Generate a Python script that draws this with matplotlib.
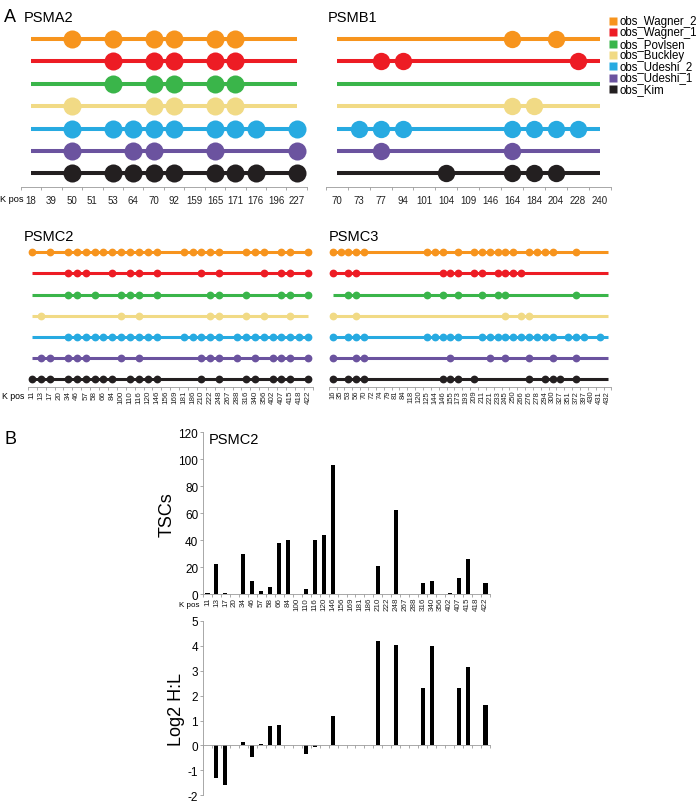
import numpy as np
import matplotlib
matplotlib.use('Agg')
import matplotlib.pyplot as plt
from matplotlib.lines import Line2D

plt.rcParams['font.family'] = ['Liberation Sans', 'DejaVu Sans']
plt.rcParams['axes.unicode_minus'] = False

W, H = 700, 804

STUDIES = ['obs_Wagner_2', 'obs_Wagner_1', 'obs_Povlsen', 'obs_Buckley',
           'obs_Udeshi_2', 'obs_Udeshi_1', 'obs_Kim']
COLORS = ['#F7941D', '#ED1C24', '#3AB54A', '#F1DA85', '#27AAE1', '#6B539F', '#231F20']

# K positions (x categories) and observed sites per study (same order as STUDIES)
PSMA2_KPOS = [18, 39, 50, 51, 53, 64, 70, 92, 159, 165, 171, 176, 196, 227]
PSMA2_SITES = [
    [50, 53, 70, 92, 165, 171],
    [53, 70, 92, 165, 171],
    [53, 70, 92, 165, 171],
    [50, 70, 92, 165, 171],
    [50, 53, 64, 70, 92, 165, 171, 176, 227],
    [50, 64, 70, 165, 227],
    [50, 53, 64, 70, 92, 165, 171, 176, 227],
]

PSMB1_KPOS = [70, 73, 77, 94, 101, 104, 109, 146, 164, 184, 204, 228, 240]
PSMB1_SITES = [
    [164, 204],
    [77, 94, 228],
    [],
    [164, 184],
    [73, 77, 94, 164, 184, 204, 228],
    [77, 164],
    [104, 164, 184, 204],
]

PSMC2_KPOS = [11, 13, 17, 20, 34, 46, 57, 58, 66, 84, 100, 110, 116, 120, 146, 156,
              169, 181, 186, 210, 222, 248, 267, 288, 316, 340, 356, 402, 407, 415, 418, 422]
PSMC2_SITES = [
    [11, 17, 34, 46, 57, 58, 66, 84, 100, 110, 116, 120, 146, 181, 186, 210, 222, 248,
     316, 340, 356, 407, 415, 422],
    [34, 46, 57, 84, 110, 116, 146, 210, 248, 356, 407, 415, 422],
    [34, 46, 58, 100, 110, 116, 146, 222, 248, 316, 407, 415, 422],
    [13, 100, 116, 222, 248, 316, 356, 415],
    [34, 46, 57, 58, 66, 84, 100, 110, 116, 120, 146, 181, 186, 210, 222, 248, 288, 316,
     340, 356, 402, 407, 415, 418, 422],
    [13, 17, 34, 46, 57, 100, 116, 210, 222, 248, 288, 340, 402, 407, 415, 422],
    [11, 13, 17, 34, 46, 57, 58, 66, 84, 110, 116, 120, 146, 210, 248, 316, 340, 402,
     407, 415, 422],
]

PSMC3_KPOS = [16, 35, 53, 56, 70, 72, 74, 79, 81, 84, 118, 120, 125, 144, 146, 155, 173,
              193, 209, 211, 221, 233, 245, 250, 266, 276, 278, 294, 300, 327, 351, 372,
              397, 430, 431, 432]
PSMC3_SITES = [
    [16, 35, 53, 56, 70, 125, 144, 146, 173, 209, 211, 221, 233, 245, 250, 276, 278, 294,
     300, 372],
    [16, 53, 56, 146, 155, 173, 209, 211, 233, 245, 250, 266],
    [53, 56, 125, 146, 173, 211, 233, 245, 372],
    [16, 56, 245, 266, 276],
    [16, 53, 56, 70, 125, 144, 146, 155, 173, 211, 221, 233, 245, 250, 266, 276, 278, 294,
     300, 351, 372, 397, 431],
    [16, 56, 70, 155, 221, 245, 276, 300, 372],
    [16, 53, 56, 70, 146, 155, 173, 209, 276, 294, 300, 327, 372],
]

# panel B (PSMC2, per K position)
PSMC2_TSC = [1, 22, 1, 0, 30, 10, 2, 5, 38, 40, 0, 4, 40, 44, 96, 0,
             0, 0, 0, 21, 0, 62, 0, 0, 8, 10, 0, 1, 12, 26, 0, 8]
PSMC2_LOG2HL = [None, -1.32, -1.57, None, 0.16, -0.45, 0.05, 0.79, 0.82, None, None, -0.36,
                -0.08, None, 1.17, None, None, None, None, 4.21, None, 4.04, None, None,
                2.3, 4.0, None, None, 2.3, 3.15, None, 1.64]


def px_axes(fig, left, top, right, bottom):
    return fig.add_axes([left / W, 1 - bottom / H, (right - left) / W, (bottom - top) / H])


def cat_xaxis(ax, n, labels, fs, rot, pad):
    ax.set_xlim(-0.5, n - 0.5)
    ax.set_xticks(np.arange(n))
    if labels is None:
        ax.set_xticklabels([])
    else:
        ax.set_xticklabels([str(k) for k in labels], fontsize=fs, rotation=rot)
    ax.set_xticks(np.arange(n + 1) - 0.5, minor=True)
    ax.tick_params(axis='x', which='major', length=0, pad=pad, colors='#222222')
    ax.tick_params(axis='x', which='minor', length=2.5, width=0.6, color='#9a9a9a')


def site_track(fig, kpos, sites, x_first, x_last, row_y0, row_dy, axis_y,
               ms, lw, fs, rot, pad):
    n = len(kpos)
    step = (x_last - x_first) / (n - 1)
    ax = px_axes(fig, x_first - step / 2, row_y0 - row_dy, x_last + step / 2, axis_y)
    ax.set_ylim((axis_y - row_y0) / row_dy, -1)
    idx = {k: i for i, k in enumerate(kpos)}
    for r, (hits, c) in enumerate(zip(sites, COLORS)):
        ax.plot([0, n - 1], [r, r], color=c, lw=lw, solid_capstyle='butt',
                clip_on=False, zorder=2)
        xs = [idx[k] for k in hits]
        ax.plot(xs, [r] * len(xs), 'o', color=c, ms=ms, mec='none',
                clip_on=False, zorder=3)
    for s in ['top', 'right', 'left']:
        ax.spines[s].set_visible(False)
    ax.spines['bottom'].set_color('#9a9a9a')
    ax.spines['bottom'].set_linewidth(0.6)
    ax.set_yticks([])
    cat_xaxis(ax, n, kpos, fs, rot, pad)
    return ax


fig = plt.figure(figsize=(W / 100, H / 100), dpi=100)


def ftext(x, y, s, **kw):
    fig.text(x / W, 1 - y / H, s, **kw)


# ---- panel A ----
ftext(4, 17, 'A', fontsize=13, va='center', ha='left')
ftext(24, 18, 'PSMA2', fontsize=10.5, va='center')
ftext(328, 18, 'PSMB1', fontsize=10.5, va='center')
ftext(24, 237, 'PSMC2', fontsize=10.5, va='center')
ftext(329, 237, 'PSMC3', fontsize=10.5, va='center')

site_track(fig, PSMA2_KPOS, PSMA2_SITES, 31, 296.7, 40, 22.4, 188, 13, 2.9, 7, 0, 6)
site_track(fig, PSMB1_KPOS, PSMB1_SITES, 336.7, 600, 40, 22.4, 188, 12.5, 2.9, 7, 0, 6)
ftext(0, 200, 'K pos', fontsize=6.6, va='center')

site_track(fig, PSMC2_KPOS, PSMC2_SITES, 32.3, 308.2, 253.3, 21.1, 388, 5.6, 2.2, 5.8, 90, 2)
site_track(fig, PSMC3_KPOS, PSMC3_SITES, 332.7, 607.5, 253.3, 21.1, 388, 5.6, 2.2, 5.5, 90, 2)
ftext(2, 397, 'K pos', fontsize=6.3, va='center')

# legend, drawn entry by entry
for i, (name, c) in enumerate(zip(STUDIES, COLORS)):
    yy = 22 + 11.3 * i
    fig.add_artist(Line2D([613 / W], [1 - yy / H], marker='s', ms=6, color=c, mec='none',
                          transform=fig.transFigure))
    ftext(619, yy, name, fontsize=8.3, va='center')

# ---- panel B ----
ftext(4, 440, 'B', fontsize=13, va='center', ha='left')

n = len(PSMC2_KPOS)
x = np.arange(n)

ax1 = px_axes(fig, 203, 433.3, 490, 595)
ax1.bar(x, PSMC2_TSC, width=0.45, color='black')
ax1.set_ylim(0, 120)
ax1.set_yticks(np.arange(0, 121, 20))
cat_xaxis(ax1, n, PSMC2_KPOS, 5.8, 90, 2)
ax1.tick_params(axis='y', labelsize=8.5, length=2.5, width=0.6, color='#9a9a9a', pad=1)
ax1.set_ylabel('TSCs', fontsize=13, labelpad=2)
ax1.text(0.02, 1.0, 'PSMC2', transform=ax1.transAxes, fontsize=10.5, va='top')
ftext(199, 606, 'K pos', fontsize=5.8, va='center', ha='right')

ax2 = px_axes(fig, 203, 622, 490, 796.3)
xs = [i for i, v in enumerate(PSMC2_LOG2HL) if v is not None]
vals = [v for v in PSMC2_LOG2HL if v is not None]
ax2.bar(xs, vals, width=0.45, color='black')
ax2.set_ylim(-2, 5)
ax2.set_yticks(np.arange(-2, 6, 1))
cat_xaxis(ax2, n, None, 5.8, 0, 2)
ax2.spines['bottom'].set_position(('data', 0))
ax2.tick_params(axis='y', labelsize=8.5, length=2.5, width=0.6, color='#9a9a9a', pad=1)
ax2.set_ylabel('Log2 H:L', fontsize=13, labelpad=2)

for ax in (ax1, ax2):
    for s in ['top', 'right']:
        ax.spines[s].set_visible(False)
    for s in ['left', 'bottom']:
        ax.spines[s].set_color('#9a9a9a')
        ax.spines[s].set_linewidth(0.6)

fig.savefig('out.png', dpi=100)
